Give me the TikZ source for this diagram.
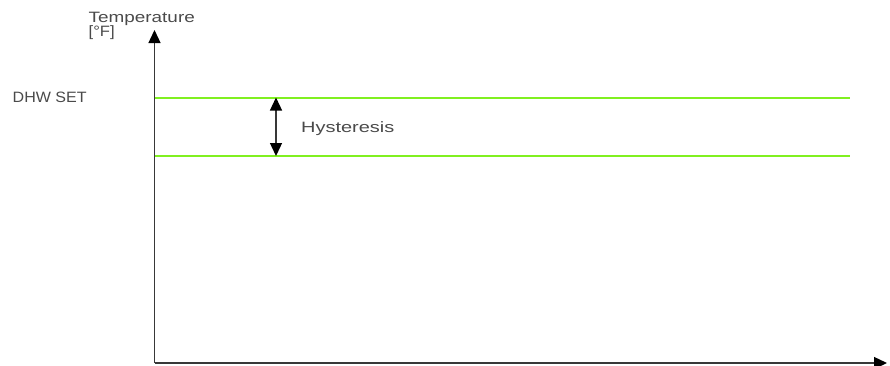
\documentclass[tikz,border=0pt]{standalone}
\usepackage{fontspec}
\setmainfont{Liberation Sans}
\usetikzlibrary{arrows.meta}
\definecolor{axisgray}{HTML}{383838}
\definecolor{txtgray}{HTML}{4A4A4A}
\definecolor{limegreen}{HTML}{80F020}
\newcommand{\sxtext}[2]{\scalebox{#1}[1]{#2}}
\begin{document}
\begin{tikzpicture}[x=1pt,y=-1pt,
  lbl/.style={inner sep=0pt,anchor=base west,text=txtgray,font=\fontsize{15}{15}\selectfont},
  axisline/.style={draw=axisgray,line width=1.3pt,-{Triangle[length=13pt,width=12pt,fill=black,color=black]}},
  setline/.style={draw=limegreen,line width=2pt},
  dimarrow/.style={draw=axisgray,line width=1.3pt,{Triangle[length=13pt,width=12pt,fill=black,color=black]}-{Triangle[length=13pt,width=12pt,fill=black,color=black]}}
]
\useasboundingbox (0,0) rectangle (890,365);
\coordinate (origin) at (154.5,363);
\coordinate (ytip) at (154.5,30);
\coordinate (xtip) at (887,363);
\coordinate (s1a) at (155,97.5);
\coordinate (s1b) at (850,97.5);
\coordinate (s2a) at (155,156);
\coordinate (s2b) at (850,156);
\coordinate (h1) at (276,97.5);
\coordinate (h2) at (276,156);
\draw[setline] (s1a) -- (s1b);
\draw[setline] (s2a) -- (s2b);
\draw[axisline] (origin) -- (ytip);
\draw[axisline] (origin) -- (xtip);
\draw[dimarrow] (h1) -- (h2);
\node[lbl] (temp) at (88.5,22) {\sxtext{1.26}{Temperature}};
\node[lbl] (unit) at (88.5,36.5) {\sxtext{1.11}{[°F]}};
\node[lbl] (dhw) at (12.5,102.5) {\sxtext{1.07}{DHW SET}};
\node[lbl] (hyst) at (301,132) {\sxtext{1.33}{Hysteresis}};
\end{tikzpicture}
\end{document}
